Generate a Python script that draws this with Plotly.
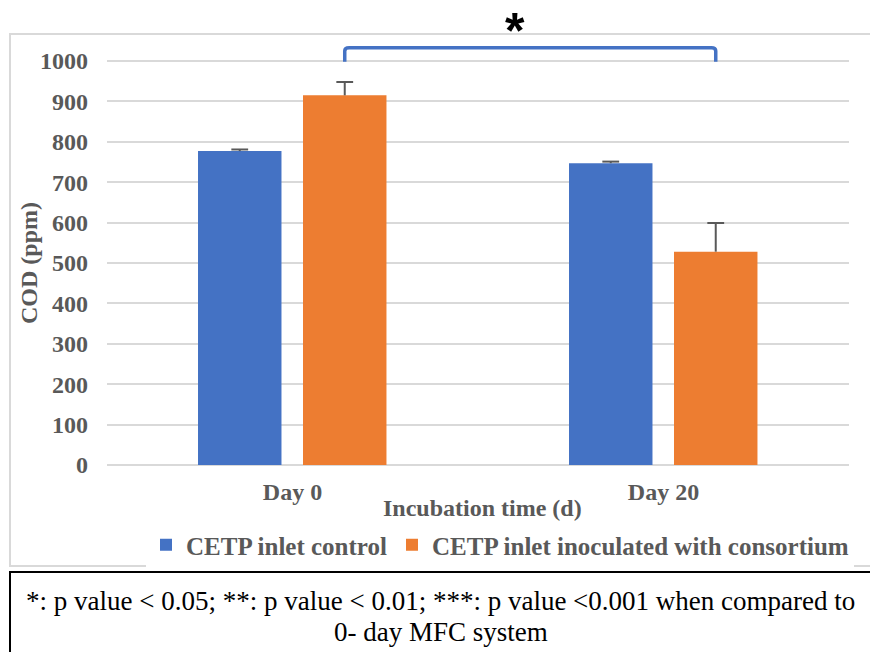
import plotly.graph_objects as go

# COD measurements (ppm) at each sampling day
days = ["Day 0", "Day 20"]
control_cod = [777, 747]
control_err = [4, 4]
inoculated_cod = [915, 528]
inoculated_err = [33, 71]

series_names = ["CETP inlet control", "CETP inlet inoculated with consortium"]
y_ticks = [0, 100, 200, 300, 400, 500, 600, 700, 800, 900, 1000]

BLUE = "#4472C4"
ORANGE = "#ED7D31"
GREY_TEXT = "#595959"
GRID = "#D9D9D9"
SERIF = "Liberation Serif"

x_pos = list(range(len(days)))
bar_w = 0.225
left_off = -0.2547
right_off = 0.0283

fig = go.Figure()
for vals, errs, name, color, off in [
    (control_cod, control_err, series_names[0], BLUE, left_off),
    (inoculated_cod, inoculated_err, series_names[1], ORANGE, right_off),
]:
    # bar with a plus-only error stem
    fig.add_trace(go.Bar(
        x=x_pos, y=vals, name=name,
        width=bar_w, offset=off, marker=dict(color=color, line=dict(width=0)),
        error_y=dict(type="data", symmetric=False, array=errs,
                     arrayminus=[0] * len(days), color=GREY_TEXT, thickness=2, width=0),
    ))
    # cap at the top of each error stem
    fig.add_trace(go.Scatter(
        x=[x + off + bar_w / 2 for x in x_pos],
        y=[v + e for v, e in zip(vals, errs)],
        mode="markers", showlegend=False, hoverinfo="skip",
        marker=dict(symbol="line-ew", size=12, line=dict(color=GREY_TEXT, width=2)),
    ))

# plot area geometry (pixels)
W, H = 870, 652
ml, mr, mt, mb = 107, 21, 33, 187
plot_h = H - mt - mb
px_per_unit = (H - mb - 61) / 1000.0
y_top = plot_h / px_per_unit


def px_x(p):
    return (p - ml) / (W - ml - mr)


def px_y(p):
    return (H - mb - p) / plot_h


# significance bracket between the inoculated bars of day 0 and day 20
bx0 = x_pos[0] + right_off + bar_w / 2
bx1 = x_pos[1] + right_off + bar_w / 2
b_low, b_high = 998, 1033
r = 0.012
fig.add_shape(
    type="path", xref="x", yref="y",
    path=(f"M {bx0},{b_low} L {bx0},{b_high - 8} Q {bx0},{b_high} {bx0 + r},{b_high} "
          f"L {bx1 - r},{b_high} Q {bx1},{b_high} {bx1},{b_high - 8} L {bx1},{b_low}"),
    line=dict(color=BLUE, width=3.5),
)
fig.add_annotation(
    x=0.6, y=px_y(31), xref="x", yref="paper", text="*", showarrow=False,
    font=dict(family="Liberation Sans", size=50, color="black", weight="bold"),
    xanchor="center", yanchor="middle",
)

# chart frame
fig.add_shape(type="rect", xref="paper", yref="paper",
              x0=px_x(10), x1=px_x(880), y0=px_y(566), y1=px_y(34),
              line=dict(color=GRID, width=2), layer="below")
# footnote box
fig.add_shape(type="rect", xref="paper", yref="paper",
              x0=px_x(10), x1=px_x(880), y0=px_y(665), y1=px_y(572),
              line=dict(color="black", width=2))

fig.add_annotation(x=px_x(440), y=px_y(601), xref="paper", yref="paper",
                   text="*: p value < 0.05; **: p value < 0.01; ***: p value <0.001 when compared to",
                   showarrow=False, xanchor="center", yanchor="middle",
                   font=dict(family=SERIF, size=27, color="black"))
fig.add_annotation(x=px_x(441), y=px_y(632), xref="paper", yref="paper",
                   text="0- day MFC system",
                   showarrow=False, xanchor="center", yanchor="middle",
                   font=dict(family=SERIF, size=27, color="black"))

# axis titles
fig.add_annotation(x=px_x(483), y=px_y(508), xref="paper", yref="paper",
                   text="Incubation time (d)", showarrow=False,
                   xanchor="center", yanchor="middle",
                   font=dict(family=SERIF, size=24, color=GREY_TEXT, weight="bold"))
fig.add_annotation(x=px_x(29), y=px_y(263), xref="paper", yref="paper",
                   text="COD (ppm)", showarrow=False, textangle=-90,
                   xanchor="center", yanchor="middle",
                   font=dict(family=SERIF, size=24, color=GREY_TEXT, weight="bold"))

fig.update_layout(
    width=W, height=H,
    margin=dict(l=ml, r=mr, t=mt, b=mb),
    paper_bgcolor="white", plot_bgcolor="white",
    barmode="overlay",
    showlegend=True,
    legend=dict(orientation="h", x=px_x(500), y=px_y(545),
                xanchor="center", yanchor="middle",
                font=dict(family=SERIF, size=25, color=GREY_TEXT, weight="bold"),
                itemwidth=30, tracegroupgap=0),
    font=dict(family=SERIF, size=24, color=GREY_TEXT),
)
fig.update_xaxes(
    range=[-0.5, 1.5], tickvals=x_pos, ticktext=days,
    showgrid=False, zeroline=False, showline=False, ticks="", ticklabelstandoff=10,
    tickfont=dict(family=SERIF, size=24, color=GREY_TEXT, weight="bold"),
)
fig.update_yaxes(
    range=[0, y_top], tickvals=y_ticks,
    showgrid=True, gridcolor=GRID, gridwidth=2,
    zeroline=True, zerolinecolor=GRID, zerolinewidth=2,
    showline=False, ticks="", ticklabelstandoff=18,
    tickfont=dict(family=SERIF, size=24, color=GREY_TEXT, weight="bold"),
)

fig.write_html("out.html")
